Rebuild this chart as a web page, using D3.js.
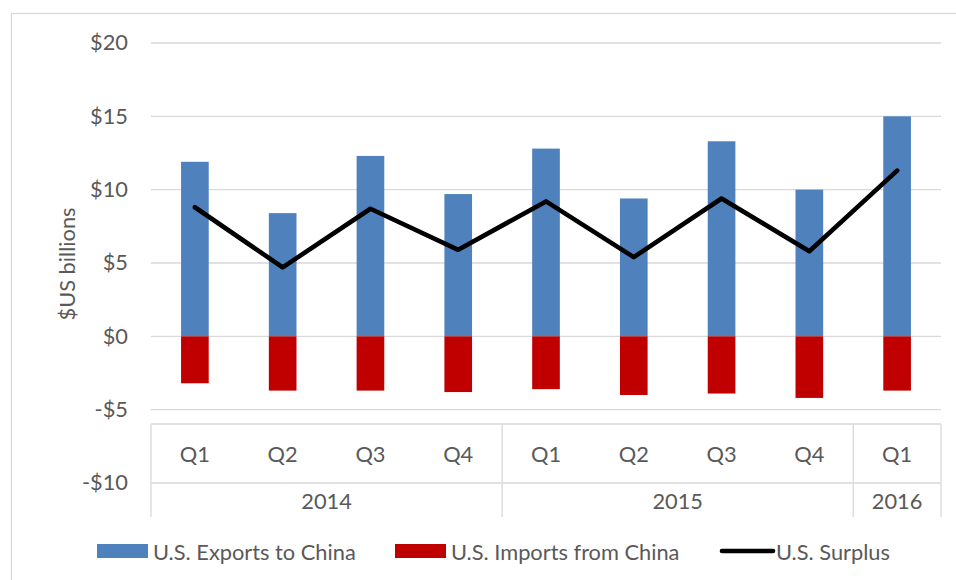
<!DOCTYPE html>
<html>
<head>
<meta charset="utf-8">
<script src="https://cdn.jsdelivr.net/npm/d3@7/dist/d3.min.js"></script>
<style>
  html, body { margin: 0; padding: 0; background: #fff; }
  svg { display: block; }
  text { font-family: Lato, "Open Sans", sans-serif; fill: #595959; }
</style>
</head>
<body>
<svg id="chart" width="956" height="580"></svg>
<script>
// Quarterly U.S.–China trade, $US billions
const quarters = ["Q1", "Q2", "Q3", "Q4", "Q1", "Q2", "Q3", "Q4", "Q1"];
const years = ["2014", "2015", "2016"];
const quartersPerYear = [4, 4, 1];
const exportsToChina = [11.9, 8.4, 12.3, 9.7, 12.8, 9.4, 13.3, 10.0, 15.0];
const importsFromChina = [-3.2, -3.7, -3.7, -3.8, -3.6, -4.0, -3.9, -4.2, -3.7];
const surplus = [8.8, 4.7, 8.7, 5.9, 9.2, 5.4, 9.4, 5.8, 11.3];
const yTicks = [-10, -5, 0, 5, 10, 15, 20];
const seriesNames = ["U.S. Exports to China", "U.S. Imports from China", "U.S. Surplus"];

const colors = { exports: "#4f81bd", imports: "#c00000", surplus: "#000000", grid: "#d9d9d9" };
const fontSize = 21.8;

const svg = d3.select("#chart");

// outer chart frame
svg.append("rect")
  .attr("x", 11.5).attr("y", 13.5)
  .attr("width", 1000).attr("height", 1000)
  .attr("fill", "none").attr("stroke", colors.grid).attr("stroke-width", 1.3);

const plot = { left: 151, right: 941, top: 43, bottom: 483 };
const axisBox = { top: 424, bottom: 517 };

const x = d3.scaleBand()
  .domain(d3.range(quarters.length))
  .range([plot.left, plot.right])
  .paddingInner(0.685)
  .paddingOuter(0.3425);

const y = d3.scaleLinear()
  .domain([-10, 20])
  .range([plot.bottom, plot.top]);

// horizontal gridlines
svg.append("g")
  .selectAll("line")
  .data(yTicks.filter(v => v > -10))
  .join("line")
  .attr("x1", plot.left).attr("x2", plot.right)
  .attr("y1", d => y(d)).attr("y2", d => y(d))
  .attr("stroke", colors.grid).attr("stroke-width", 1.3);

// y axis labels
const fmt = v => (v < 0 ? "-$" : "$") + Math.abs(v);
const yAxis = svg.append("g")
  .attr("transform", `translate(${plot.left},0)`)
  .call(d3.axisLeft(y).tickValues(yTicks).tickFormat(fmt).tickSize(0).tickPadding(23));
yAxis.select(".domain").remove();
yAxis.selectAll("text")
  .attr("font-size", fontSize)
  .style("font-family", "Lato, sans-serif")
  .attr("fill", "#595959");

// y axis title
svg.append("text")
  .attr("transform", `translate(66,264) rotate(-90)`)
  .attr("text-anchor", "middle")
  .attr("dominant-baseline", "central")
  .attr("font-size", fontSize)
  .text("$US billions");

// bars: exports above zero, imports below
const bars = svg.append("g");
bars.selectAll("rect.exp")
  .data(exportsToChina)
  .join("rect")
  .attr("class", "exp")
  .attr("x", (d, i) => x(i))
  .attr("width", x.bandwidth())
  .attr("y", d => y(d))
  .attr("height", d => y(0) - y(d))
  .attr("fill", colors.exports);

bars.selectAll("rect.imp")
  .data(importsFromChina)
  .join("rect")
  .attr("class", "imp")
  .attr("x", (d, i) => x(i))
  .attr("width", x.bandwidth())
  .attr("y", y(0))
  .attr("height", d => y(d) - y(0))
  .attr("fill", colors.imports);

// surplus line
const line = d3.line()
  .x((d, i) => x(i) + x.bandwidth() / 2)
  .y(d => y(d));
svg.append("path")
  .datum(surplus)
  .attr("d", line)
  .attr("fill", "none")
  .attr("stroke", colors.surplus)
  .attr("stroke-width", 4.6)
  .attr("stroke-linecap", "round")
  .attr("stroke-linejoin", "round");

// multi-level category axis
const step = x.step();
const boundary = k => plot.left + k * step;
const axisG = svg.append("g").attr("stroke", colors.grid).attr("stroke-width", 1.3);
axisG.append("line")
  .attr("x1", plot.left).attr("x2", plot.right)
  .attr("y1", axisBox.top).attr("y2", axisBox.top);
axisG.append("line")
  .attr("x1", plot.left).attr("x2", plot.right)
  .attr("y1", y(-10)).attr("y2", y(-10));
const yearEdges = [0, ...d3.cumsum(quartersPerYear)];
axisG.selectAll("line.sep")
  .data(yearEdges)
  .join("line")
  .attr("class", "sep")
  .attr("x1", d => boundary(d)).attr("x2", d => boundary(d))
  .attr("y1", axisBox.top).attr("y2", axisBox.bottom);

svg.append("g")
  .selectAll("text")
  .data(quarters)
  .join("text")
  .attr("x", (d, i) => x(i) + x.bandwidth() / 2)
  .attr("y", (axisBox.top + y(-10)) / 2)
  .attr("text-anchor", "middle")
  .attr("dominant-baseline", "central")
  .attr("font-size", fontSize)
  .text(d => d);

svg.append("g")
  .selectAll("text")
  .data(years)
  .join("text")
  .attr("x", (d, i) => (boundary(yearEdges[i]) + boundary(yearEdges[i + 1])) / 2)
  .attr("y", (y(-10) + axisBox.bottom) / 2)
  .attr("text-anchor", "middle")
  .attr("dominant-baseline", "central")
  .attr("font-size", fontSize)
  .text(d => d);

// legend
const legendY = 551;
const legendItems = [
  { name: seriesNames[0], type: "rect", color: colors.exports, x: 97 },
  { name: seriesNames[1], type: "rect", color: colors.imports, x: 395 },
  { name: seriesNames[2], type: "line", color: colors.surplus, x: 720 }
];
const lg = svg.append("g");
legendItems.forEach(item => {
  if (item.type === "rect") {
    lg.append("rect")
      .attr("x", item.x).attr("y", legendY - 7)
      .attr("width", 51).attr("height", 14)
      .attr("fill", item.color);
  } else {
    lg.append("line")
      .attr("x1", item.x + 2).attr("x2", item.x + 53)
      .attr("y1", legendY).attr("y2", legendY)
      .attr("stroke", item.color).attr("stroke-width", 4.6)
      .attr("stroke-linecap", "round");
  }
  lg.append("text")
    .attr("x", item.x + 56)
    .attr("y", legendY)
    .attr("dominant-baseline", "central")
    .attr("font-size", fontSize)
    .text(item.name);
});
</script>
</body>
</html>
